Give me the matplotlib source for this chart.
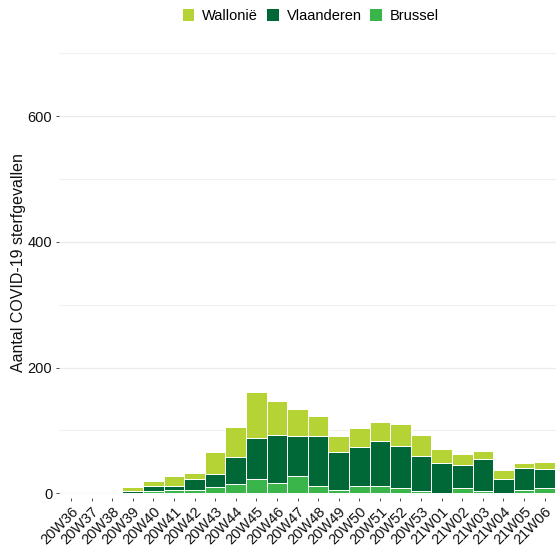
import numpy as np
import matplotlib
matplotlib.use("Agg")
import matplotlib.pyplot as plt
from matplotlib.patches import Patch

plt.rcParams["font.family"] = ["Liberation Sans", "DejaVu Sans"]

weeks = ["20W36", "20W37", "20W38", "20W39", "20W40", "20W41", "20W42", "20W43",
         "20W44", "20W45", "20W46", "20W47", "20W48", "20W49", "20W50", "20W51",
         "20W52", "20W53", "21W01", "21W02", "21W03", "21W04", "21W05", "21W06"]
brussel = [0, 0, 0, 1, 3, 5, 6, 10, 15, 23, 17, 27, 12, 5, 11, 12, 8, 3, 1, 8, 3, 1, 6, 9]
vlaanderen = [0, 0, 0, 3, 9, 7, 17, 20, 42, 65, 76, 64, 79, 61, 62, 72, 67, 56, 48, 37, 51, 22, 34, 30]
wallonie = [0, 0, 0, 6, 8, 16, 10, 35, 48, 73, 54, 43, 32, 25, 31, 29, 36, 34, 22, 18, 14, 14, 9, 11]

c_wal = "#b5d334"
c_vla = "#006837"
c_bru = "#39b54a"

fig = plt.figure(figsize=(5.56, 5.48), dpi=100)
ax = fig.add_axes([0.1054, 0.0912, 0.8946, 0.8595])

x = np.arange(len(weeks))
b = np.array(brussel)
v = np.array(vlaanderen)
w = np.array(wallonie)
kw = dict(width=1.0, edgecolor="white", linewidth=0.7, zorder=3)
ax.bar(x, b, color=c_bru, **kw)
ax.bar(x, v, bottom=b, color=c_vla, **kw)
ax.bar(x, w, bottom=b + v, color=c_wal, **kw)

ax.set_xlim(-0.6, 23.55)
ax.set_ylim(-7.5, 742)
ax.set_yticks([0, 200, 400, 600])
ax.set_yticks([100, 300, 500, 700], minor=True)
ax.grid(axis="y", which="major", color="#ebebeb", linewidth=1.0, zorder=0)
ax.grid(axis="y", which="minor", color="#f0f0f0", linewidth=0.8, zorder=0)
ax.tick_params(axis="y", which="minor", length=0)
ax.set_xticks(x)
ax.set_xticklabels(weeks, rotation=45, ha="right", va="top", rotation_mode="anchor")
ax.tick_params(axis="both", which="major", length=2.5, width=0.6, color="#333333",
               labelsize=10.5, labelcolor="#111111", pad=2)
for s in ax.spines.values():
    s.set_visible(False)
ax.set_ylabel("Aantal COVID-19 sterfgevallen", fontsize=11.5, color="#111111", labelpad=1)

handles = [Patch(facecolor=c_wal, edgecolor="none"),
           Patch(facecolor=c_vla, edgecolor="none"),
           Patch(facecolor=c_bru, edgecolor="none")]
fig.legend(handles, ["Wallonië", "Vlaanderen", "Brussel"], loc="center",
           bbox_to_anchor=(311 / 556, 1 - 16 / 548), ncol=3, frameon=False,
           fontsize=10.5, handlelength=0.8, handleheight=0.8, handletextpad=0.55,
           columnspacing=0.6, borderpad=0)

fig.savefig("out.png", dpi=100)
